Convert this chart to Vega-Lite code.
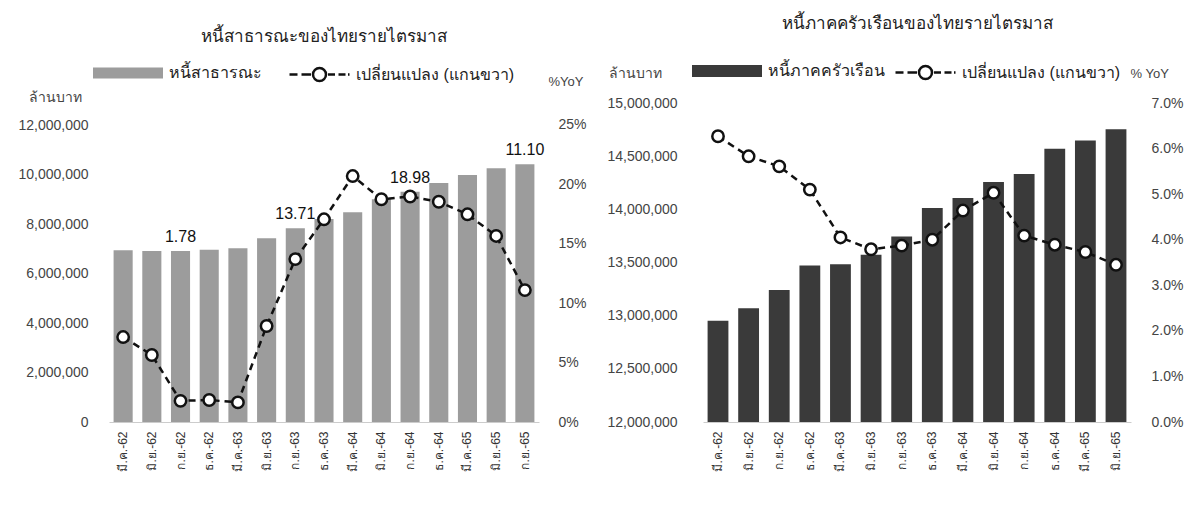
{
  "$schema": "https://vega.github.io/schema/vega-lite/v6.json",
  "background": "white",
  "padding": {"left": 17, "top": 15, "right": 5, "bottom": 5},
  "config": {
    "view": {"stroke": null},
    "font": "Liberation Sans, Noto Sans, sans-serif",
    "axis": {"labelColor": "#444444", "labelFontSize": 14, "grid": false, "ticks": false, "domain": false, "titleFontWeight": "normal", "titleColor": "#444444", "titleFontSize": 14},
    "legend": {"labelFontSize": 16, "labelColor": "#222222", "padding": 0},
    "title": {"fontSize": 17, "fontWeight": "normal", "color": "#222222"}
  },
  "datasets": {
    "public": [
      {"q": "มี.ค.-62", "debt": 6940000, "yoy": 7.15},
      {"q": "มิ.ย.-62", "debt": 6910000, "yoy": 5.64},
      {"q": "ก.ย.-62", "debt": 6910000, "yoy": 1.78},
      {"q": "ธ.ค.-62", "debt": 6960000, "yoy": 1.85},
      {"q": "มี.ค.-63", "debt": 7020000, "yoy": 1.65},
      {"q": "มิ.ย.-63", "debt": 7420000, "yoy": 8.08},
      {"q": "ก.ย.-63", "debt": 7830000, "yoy": 13.71},
      {"q": "ธ.ค.-63", "debt": 8200000, "yoy": 17.06},
      {"q": "มี.ค.-64", "debt": 8480000, "yoy": 20.7},
      {"q": "มิ.ย.-64", "debt": 9000000, "yoy": 18.75},
      {"q": "ก.ย.-64", "debt": 9300000, "yoy": 18.98},
      {"q": "ธ.ค.-64", "debt": 9660000, "yoy": 18.54},
      {"q": "มี.ค.-65", "debt": 9980000, "yoy": 17.48},
      {"q": "มิ.ย.-65", "debt": 10250000, "yoy": 15.66},
      {"q": "ก.ย.-65", "debt": 10410000, "yoy": 11.1}
    ],
    "household": [
      {"q": "มี.ค.-62", "debt": 12953000, "yoy": 6.27},
      {"q": "มิ.ย.-62", "debt": 13069000, "yoy": 5.83},
      {"q": "ก.ย.-62", "debt": 13242000, "yoy": 5.61},
      {"q": "ธ.ค.-62", "debt": 13472000, "yoy": 5.1},
      {"q": "มี.ค.-63", "debt": 13484000, "yoy": 4.05},
      {"q": "มิ.ย.-63", "debt": 13572000, "yoy": 3.79},
      {"q": "ก.ย.-63", "debt": 13745000, "yoy": 3.87},
      {"q": "ธ.ค.-63", "debt": 14012000, "yoy": 4.0},
      {"q": "มี.ค.-64", "debt": 14107000, "yoy": 4.64},
      {"q": "มิ.ย.-64", "debt": 14258000, "yoy": 5.03},
      {"q": "ก.ย.-64", "debt": 14333000, "yoy": 4.09},
      {"q": "ธ.ค.-64", "debt": 14569000, "yoy": 3.89},
      {"q": "มี.ค.-65", "debt": 14648000, "yoy": 3.73},
      {"q": "มิ.ย.-65", "debt": 14752000, "yoy": 3.45}
    ]
  },
  "spacing": 19,
  "resolve": {"scale": {"fill": "independent", "stroke": "independent"}, "legend": {"fill": "independent", "stroke": "independent"}},
  "hconcat": [
    {
      "title": {"text": "หนี้สาธารณะของไทยรายไตรมาส", "anchor": "middle", "offset": 17},
      "width": 430,
      "height": 319,
      "data": {"name": "public"},
      "encoding": {
        "x": {"field": "q", "type": "ordinal", "sort": null,
          "scale": {"paddingInner": 0.335, "paddingOuter": 0.16},
          "axis": {"title": null, "labelAngle": -90, "labelPadding": 9, "domain": true, "domainColor": "#cccccc", "labelFontSize": 12, "labelColor": "#333333"}}
      },
      "layer": [
        {
          "layer": [
            {
              "mark": {"type": "bar"},
              "encoding": {
                "y": {"field": "debt", "type": "quantitative",
                  "scale": {"domain": [0, 12890000], "nice": false},
                  "axis": {"values": [0, 2000000, 4000000, 6000000, 8000000, 10000000, 12000000], "format": ",.0f", "labelPadding": 21,
                    "title": "ล้านบาท", "titleAngle": 0, "titleAlign": "left", "titleBaseline": "middle", "titleX": -81, "titleY": -6}},
                "fill": {"datum": "หนี้สาธารณะ", "type": "nominal", "scale": {"range": ["#9c9c9c"]},
                  "legend": {"title": null, "orient": "none", "legendX": 9, "legendY": -40, "symbolType": "M-3.5,-0.55H3.5V0.55H-3.5Z", "symbolSize": 400, "labelOffset": 31, "symbolStrokeWidth": 0}}
              }
            },
            {
              "transform": [{"filter": "indexof(['ก.ย.-62','ก.ย.-63','ก.ย.-64','ก.ย.-65'], datum.q) >= 0"}],
              "mark": {"type": "text", "baseline": "bottom", "dy": -6, "fontSize": 16, "color": "#111111"},
              "encoding": {
                "y": {"field": "debt", "type": "quantitative"},
                "text": {"field": "yoy", "type": "quantitative", "format": ".2f"}
              }
            }
          ]
        },
        {
          "layer": [
            {
              "mark": {"type": "line", "strokeDash": [7, 5], "strokeWidth": 2.5},
              "encoding": {
                "y": {"field": "yoy", "type": "quantitative",
                  "scale": {"domain": [0, 26.85], "nice": false},
                  "axis": {"orient": "right", "values": [0, 5, 10, 15, 20, 25], "labelExpr": "datum.value + '%'", "labelPadding": 19,
                    "title": "%YoY", "titleFontSize": 13, "titleAngle": 0, "titleAlign": "left", "titleBaseline": "middle", "titleX": 9, "titleY": -22}},
                "stroke": {"datum": "เปลี่ยนแปลง (แกนขวา)", "type": "nominal", "scale": {"range": ["#111111"]},
                  "legend": {"title": null, "orient": "none", "legendX": 199, "legendY": -40, "symbolSize": 400, "labelOffset": 25, "symbolStrokeWidth": 2.5,
                    "symbolType": "M-3,0H-2.2M-1.8,0H-0.85M0.85,0H1.55M1.9,0H2.6M2.85,0H3M0.65,0A0.65,0.65 0 1,1 -0.65,0A0.65,0.65 0 1,1 0.65,0Z",
                    "encode": {"symbols": {"update": {"fill": {"value": "white"}, "strokeDash": {"value": []}, "stroke": {"value": "#111111"}}}}}}
              }
            },
            {
              "mark": {"type": "point", "filled": true, "fill": "white", "stroke": "#111111", "strokeWidth": 2.5, "size": 130, "opacity": 1},
              "encoding": {"y": {"field": "yoy", "type": "quantitative"}}
            }
          ]
        }
      ],
      "resolve": {"scale": {"y": "independent"}}
    },
    {
      "title": {"text": "หนี้ภาคครัวเรือนของไทยรายไตรมาส", "anchor": "middle", "offset": 28},
      "width": 428,
      "height": 319,
      "data": {"name": "household"},
      "encoding": {
        "x": {"field": "q", "type": "ordinal", "sort": null,
          "scale": {"paddingInner": 0.32, "paddingOuter": 0.15},
          "axis": {"title": null, "labelAngle": -90, "labelPadding": 9, "domain": true, "domainColor": "#cccccc", "labelFontSize": 12, "labelColor": "#333333"}}
      },
      "layer": [
        {
          "mark": {"type": "bar"},
          "encoding": {
            "y": {"field": "debt", "type": "quantitative",
              "scale": {"domain": [12000000, 15000000], "nice": false, "zero": false},
              "axis": {"values": [12000000, 12500000, 13000000, 13500000, 14000000, 14500000, 15000000], "format": ",.0f", "labelPadding": 26,
                "title": "ล้านบาท", "titleAngle": 0, "titleAlign": "left", "titleBaseline": "middle", "titleX": -95, "titleY": -30}},
            "y2": {"datum": 12000000},
            "fill": {"datum": "หนี้ภาคครัวเรือน", "type": "nominal", "scale": {"range": ["#3a3a3a"]},
              "legend": {"title": null, "orient": "none", "legendX": 14, "legendY": -42, "symbolType": "M-3.5,-0.6H3.5V0.6H-3.5Z", "symbolSize": 400, "labelOffset": 31, "symbolStrokeWidth": 0}}
          }
        },
        {
          "layer": [
            {
              "mark": {"type": "line", "strokeDash": [7, 5], "strokeWidth": 2.5},
              "encoding": {
                "y": {"field": "yoy", "type": "quantitative",
                  "scale": {"domain": [0, 7], "nice": false},
                  "axis": {"orient": "right", "values": [0, 1, 2, 3, 4, 5, 6, 7], "labelExpr": "format(datum.value, '.1f') + '%'", "labelPadding": 20,
                    "title": "% YoY", "titleFontSize": 13, "titleAngle": 0, "titleAlign": "left", "titleBaseline": "middle", "titleX": -1, "titleY": -30}},
                "stroke": {"datum": "เปลี่ยนแปลง (แกนขวา)", "type": "nominal", "scale": {"range": ["#111111"]},
                  "legend": {"title": null, "orient": "none", "legendX": 211, "legendY": -42, "symbolSize": 400, "labelOffset": 25, "symbolStrokeWidth": 2.5,
                    "symbolType": "M-3,0H-2.2M-1.8,0H-0.85M0.85,0H1.55M1.9,0H2.6M2.85,0H3M0.65,0A0.65,0.65 0 1,1 -0.65,0A0.65,0.65 0 1,1 0.65,0Z",
                    "encode": {"symbols": {"update": {"fill": {"value": "white"}, "strokeDash": {"value": []}, "stroke": {"value": "#111111"}}}}}}
              }
            },
            {
              "mark": {"type": "point", "filled": true, "fill": "white", "stroke": "#111111", "strokeWidth": 2.5, "size": 130, "opacity": 1},
              "encoding": {"y": {"field": "yoy", "type": "quantitative"}}
            }
          ]
        }
      ],
      "resolve": {"scale": {"y": "independent"}}
    }
  ]
}
